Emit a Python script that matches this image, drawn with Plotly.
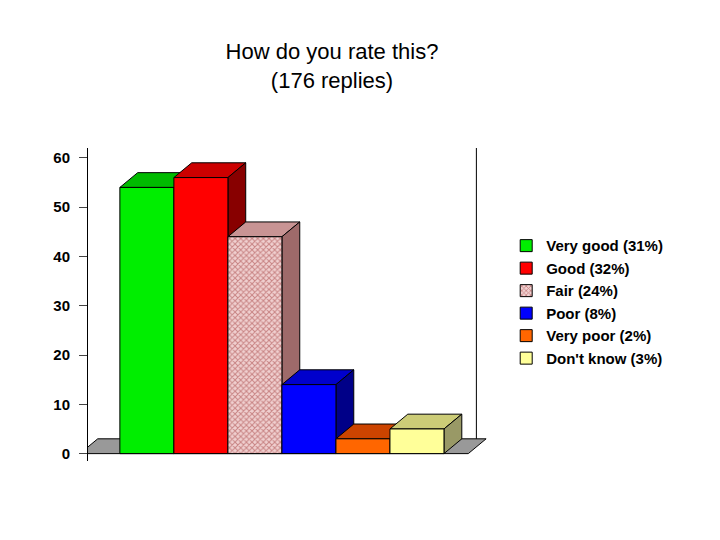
import plotly.graph_objects as go

labels = ["Very good (31%)", "Good (32%)", "Fair (24%)", "Poor (8%)", "Very poor (2%)", "Don't know (3%)"]
values = [54, 56, 44, 14, 3, 5]
face = ["#00EE00", "#FF0000", "#F2C6C6", "#0000FF", "#FF6600", "#FFFF99"]
top = ["#00BB00", "#CC0000", "#C89494", "#0000CC", "#CC4400", "#CCCC77"]
side = ["#008800", "#880000", "#9E6A6A", "#000088", "#993300", "#999966"]

DX, DY = 0.33, 3.0  # depth offset in data units

fig = go.Figure()
for i, (lab, v) in enumerate(zip(labels, values)):
    pat = dict(shape="x", fgcolor="#A03838", bgcolor="#F0D0D0", size=4, solidity=0.45) if i == 2 else None
    fig.add_bar(x=[i], y=[v], name=f"<b>{lab}</b>", width=1.0,
                marker=dict(color=face[i], line=dict(color="black", width=1), pattern=pat))

shapes = []
# floor
x0, x1 = -1.24, 5.95
shapes.append(dict(type="path", xref="x", yref="y", layer="below",
                   path=f"M{x0},0 L{x1},0 L{x1+DX},{DY} L{x0+DX},{DY} Z",
                   fillcolor="#999999", line=dict(color="black", width=1)))
for i, v in enumerate(values):
    l, r = i - 0.5, i + 0.5
    shapes.append(dict(type="path", xref="x", yref="y", layer="below",
                       path=f"M{l},{v} L{r},{v} L{r+DX},{v+DY} L{l+DX},{v+DY} Z",
                       fillcolor=top[i], line=dict(color="black", width=1)))
    shapes.append(dict(type="path", xref="x", yref="y", layer="below",
                       path=f"M{r},0 L{r},{v} L{r+DX},{v+DY} L{r+DX},{DY} Z",
                       fillcolor=side[i], line=dict(color="black", width=1)))
# back wall right edge
shapes.append(dict(type="line", xref="x", yref="y", layer="below", x0=6.1, x1=6.1, y0=DY, y1=62,
                   line=dict(color="black", width=1)))

fig.update_layout(
    width=720, height=540, plot_bgcolor="white", paper_bgcolor="white",
    font=dict(family="Liberation Sans, Arial", color="black"),
    title=dict(text="How do you rate this?<br>(176 replies)", x=0.45, xanchor="center", y=0.905,
               font=dict(size=22)),
    margin=dict(l=80, r=230, t=140, b=87),
    barmode="overlay", shapes=shapes,
    xaxis=dict(range=[-1.09, 6.5], visible=False),
    yaxis=dict(range=[-1.5, 62], tickvals=[0, 10, 20, 30, 40, 50, 60], showgrid=False, zeroline=False,
               showline=True, linecolor="black", ticks="outside", ticklen=8,
               tickfont=dict(size=15, weight="bold"), ticklabelstandoff=6),
    legend=dict(x=1.02, y=0.74, yanchor="top", font=dict(size=15), tracegroupgap=0),
)
fig.write_html("out.html")
